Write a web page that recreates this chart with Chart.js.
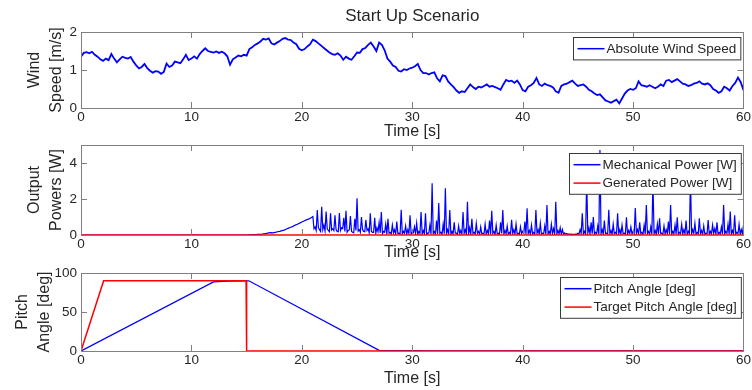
<!DOCTYPE html>
<html>
<head>
<meta charset="utf-8">
<title>Start Up Scenario</title>
<script src="https://cdn.jsdelivr.net/npm/chart.js@4.4.1/dist/chart.umd.min.js"></script>
<style>
  body { margin: 0; background: #fff; width: 752px; height: 390px; overflow: hidden; position: relative; }
  .panel { position: absolute; left: 0; width: 752px; }
  .panel canvas { display: block; }
</style>
</head>
<body>
<div class="panel" style="top:0px"><canvas id="windChart" width="752" height="141"></canvas></div>
<div class="panel" style="top:125px"><canvas id="powerChart" width="752" height="137"></canvas></div>
<div class="panel" style="top:250px"><canvas id="pitchChart" width="752" height="138"></canvas></div>
<script>
// ---- data ----
const timeTicks = [0, 10, 20, 30, 40, 50, 60];
const windTicks = [0, 1, 2];
const powerTicks = [0, 2, 4];
const pitchTicks = [0, 50, 100];

// absolute wind speed [m/s], one sample every 0.25 s from t = 0
const windDt = 0.25;
const windSpeed = [
  1.35, 1.45, 1.47, 1.44, 1.48, 1.40, 1.35, 1.28, 1.24, 1.30, 1.26, 1.42, 1.30, 1.20, 1.28, 1.35,
  1.32, 1.30, 1.34, 1.22, 1.12, 1.04, 1.08, 1.16, 1.05, 0.98, 0.93, 0.97, 0.96, 0.90, 0.95, 1.17,
  1.08, 1.12, 1.22, 1.20, 1.18, 1.28, 1.40, 1.26, 1.30, 1.36, 1.30, 1.42, 1.50, 1.57, 1.50, 1.48,
  1.46, 1.49, 1.45, 1.48, 1.44, 1.36, 1.14, 1.28, 1.33, 1.38, 1.36, 1.40, 1.38, 1.55, 1.60, 1.66,
  1.70, 1.75, 1.82, 1.80, 1.83, 1.70, 1.67, 1.72, 1.76, 1.82, 1.84, 1.80, 1.79, 1.72, 1.68, 1.56,
  1.52, 1.55, 1.62, 1.68, 1.80, 1.76, 1.70, 1.64, 1.58, 1.52, 1.46, 1.42, 1.40, 1.44, 1.38, 1.27,
  1.35, 1.30, 1.27, 1.36, 1.46, 1.45, 1.55, 1.58, 1.66, 1.72, 1.62, 1.50, 1.72, 1.66, 1.52, 1.30,
  1.22, 1.12, 1.08, 0.98, 0.96, 1.02, 1.00, 1.04, 1.06, 1.10, 1.16, 1.00, 0.92, 0.92, 0.88, 0.92,
  0.94, 0.78, 0.70, 0.86, 0.84, 0.70, 0.62, 0.55, 0.46, 0.40, 0.44, 0.42, 0.52, 0.62, 0.55, 0.50,
  0.56, 0.54, 0.58, 0.62, 0.56, 0.58, 0.55, 0.52, 0.48, 0.62, 0.74, 0.70, 0.72, 0.66, 0.72, 0.62,
  0.47, 0.44, 0.56, 0.60, 0.66, 0.79, 0.62, 0.58, 0.64, 0.60, 0.58, 0.54, 0.44, 0.40, 0.58, 0.62,
  0.64, 0.68, 0.72, 0.64, 0.58, 0.60, 0.62, 0.56, 0.48, 0.44, 0.38, 0.34, 0.36, 0.28, 0.20, 0.17,
  0.14, 0.18, 0.22, 0.12, 0.25, 0.38, 0.46, 0.50, 0.48, 0.52, 0.70, 0.60, 0.58, 0.56, 0.60, 0.56,
  0.52, 0.56, 0.62, 0.58, 0.72, 0.74, 0.68, 0.72, 0.76, 0.70, 0.64, 0.62, 0.58, 0.60, 0.64, 0.66,
  0.70, 0.64, 0.62, 0.65, 0.60, 0.50, 0.46, 0.40, 0.44, 0.56, 0.52, 0.46, 0.58, 0.66, 0.80, 0.68,
  0.47
];

// mechanical power [W], zero until t = 15, then one sample every 0.2 s
const powerT0 = 15;
const powerDt = 0.2;
const mechPower = [
  0.00, 0.01, 0.01, 0.02, 0.02, 0.03, 0.04, 0.05, 0.07, 0.09, 0.12, 0.13, 0.12, 0.15, 0.18, 0.20,
  0.24, 0.27, 0.33, 0.38, 0.43, 0.48, 0.55, 0.60, 0.66, 0.72, 0.78, 0.84, 0.88, 0.94, 1.02, 0.45,
  1.39, 0.30, 1.57, 0.55, 1.30, 0.25, 1.20, 0.35, 1.10, 0.20, 1.22, 0.40, 0.95, 1.35, 0.25, 1.05,
  0.15, 0.90, 2.04, 0.30, 1.00, 0.20, 0.85, 0.35, 1.20, 0.15, 0.95, 0.40, 0.70, 1.28, 0.20, 0.60,
  0.90, 0.15, 0.55, 0.30, 0.75, 0.10, 1.40, 0.20, 0.50, 0.30, 1.10, 0.15, 0.45, 0.65, 0.20, 1.28,
  0.25, 1.20, 0.10, 0.55, 2.87, 0.20, 0.80, 1.78, 0.15, 0.60, 2.59, 0.30, 1.39, 0.20, 0.70, 0.10,
  0.50, 0.25, 1.28, 0.30, 1.85, 0.40, 0.90, 0.15, 0.65, 0.20, 0.45, 0.10, 0.60, 0.25, 0.80, 1.35,
  0.20, 0.55, 0.10, 0.70, 1.39, 0.25, 0.50, 0.15, 0.85, 0.30, 0.60, 0.10, 0.45, 0.20, 0.75, 1.48,
  0.25, 0.55, 0.15, 1.39, 0.30, 0.65, 0.10, 0.50, 1.67, 0.20, 0.60, 0.35, 1.85, 0.25, 0.40, 0.30,
  0.12, 0.08, 0.06, 0.05, 0.04, 0.05, 0.10, 0.30, 1.20, 0.20, 3.10, 0.40, 0.70, 1.00, 0.15, 0.50,
  4.72, 0.30, 0.80, 0.10, 1.40, 0.25, 0.60, 0.15, 1.20, 0.30, 0.55, 0.10, 0.98, 0.25, 0.45, 0.20,
  1.50, 0.30, 0.70, 0.15, 0.55, 1.67, 0.20, 0.45, 3.00, 0.25, 0.60, 0.93, 0.10, 0.50, 0.30, 0.75,
  1.67, 0.20, 0.55, 0.98, 0.15, 0.60, 0.30, 0.80, 0.20, 3.20, 0.30, 0.65, 0.15, 0.93, 0.25, 0.50,
  0.10, 0.83, 0.20, 0.55, 0.35, 0.70, 0.15, 0.45, 1.67, 0.20, 0.60, 1.30, 0.25, 1.10, 0.15, 0.60,
  0.30, 0.55
];
// minima of the fast power oscillation, at 21.1, 21.3, ... 59.9 s (between the samples above)
const troughT0 = 21.1;
const mechTrough = [
  0.35, 0.25, 0.40, 0.20, 0.30, 0.22, 0.35, 0.18, 0.28, 0.25,
  0.30, 0.18, 0.25, 0.35, 0.20, 0.15, 0.28, 0.20, 0.12, 0.25,
  0.22, 0.15, 0.30, 0.18, 0.25, 0.12, 0.20, 0.15, 0.10, 0.18,
  0.12, 0.08, 0.15, 0.05, 0.10, 0.06, 0.12, 0.04, 0.08, 0.05,
  0.06, 0.10, 0.04, 0.08, 0.05, 0.12, 0.06, 0.03, 0.08, 0.05,
  0.07, 0.04, 0.10, 0.05, 0.08, 0.03, 0.06, 0.09, 0.04, 0.07,
  0.05, 0.08, 0.03, 0.06, 0.10, 0.04, 0.07, 0.05, 0.09, 0.03,
  0.06, 0.04, 0.08, 0.05, 0.10, 0.03, 0.07, 0.05, 0.04, 0.08,
  0.05, 0.09, 0.03, 0.06, 0.04, 0.08, 0.05, 0.07, 0.03, 0.06,
  0.08, 0.04, 0.06, 0.03, 0.09, 0.05, 0.04, 0.07, 0.05, 0.03,
  0.06, 0.08, 0.04, 0.05, 0.07, 0.03, 0.06, 0.05, 0.08, 0.04,
  0.05, 0.06, 0.04, 0.05, 0.04, 0.03, 0.03, 0.04, 0.03, 0.04,
  0.05, 0.08, 0.04, 0.06, 0.10, 0.05, 0.07, 0.04, 0.08, 0.05,
  0.06, 0.04, 0.09, 0.05, 0.07, 0.03, 0.08, 0.05, 0.06, 0.04,
  0.07, 0.05, 0.03, 0.08, 0.06, 0.04, 0.09, 0.05, 0.07, 0.03,
  0.06, 0.08, 0.04, 0.05, 0.07, 0.03, 0.06, 0.09, 0.04, 0.05,
  0.08, 0.05, 0.03, 0.07, 0.06, 0.04, 0.08, 0.05, 0.06, 0.03,
  0.07, 0.05, 0.09, 0.04, 0.06, 0.08, 0.03, 0.05, 0.07, 0.04,
  0.06, 0.08, 0.05, 0.03, 0.07, 0.04, 0.06, 0.09, 0.05, 0.04,
  0.07, 0.05, 0.08, 0.04, 0.06
];

// generated power [W]
const genTime = [0, 60];
const genPower = [0, 0];

// pitch angle and its target [deg]
const pitchTime = [0, 12.0, 13.3, 15.2, 27.0, 30.8, 31.0, 60];
const pitchAngle = [0, 88.5, 89.5, 90, 0.8, 0.6, 0, 0];
const targetTime = [0, 2.05, 14.95, 15.0, 60];
const targetAngle = [0, 90, 90, 0, 0];

// ---- helpers ----
const FONT = '"Liberation Sans", Arial, Helvetica, sans-serif';
const TEXT = '#262626';
const AXIS = '#808080';
Chart.defaults.font.family = FONT;
Chart.defaults.color = TEXT;

function pairs(times, values) {
  return values.map((v, i) => ({ x: times[i], y: v }));
}
function sampled(t0, dt, values) {
  return values.map((v, i) => ({ x: t0 + i * dt, y: v }));
}

// mechanical power: zero start, the sampled values, and the troughs slotted in between
function mechSeries() {
  const pts = [{ x: 0, y: 0 }].concat(sampled(powerT0, powerDt, mechPower))
    .concat(sampled(troughT0, powerDt, mechTrough));
  return pts.sort((a, b) => a.x - b.x);
}

// box around the axes with inward tick marks, optional title and boxed legend
function axesDecor(cfg) {
  return {
    id: 'axesDecor',
    afterDraw(chart) {
      const { ctx, chartArea: a, scales: { x, y } } = chart;
      const tl = 6;
      ctx.save();
      ctx.strokeStyle = AXIS;
      ctx.lineWidth = 1;
      ctx.beginPath();
      x.ticks.forEach(t => {
        const px = Math.round(x.getPixelForValue(t.value)) + 0.5;
        ctx.moveTo(px, a.bottom); ctx.lineTo(px, a.bottom - tl);
        ctx.moveTo(px, a.top); ctx.lineTo(px, a.top + tl);
      });
      y.ticks.forEach(t => {
        const py = Math.round(y.getPixelForValue(t.value)) + 0.5;
        ctx.moveTo(a.left, py); ctx.lineTo(a.left + tl, py);
        ctx.moveTo(a.right, py); ctx.lineTo(a.right - tl, py);
      });
      ctx.stroke();
      ctx.strokeRect(Math.round(a.left) + 0.5, Math.round(a.top) + 0.5,
        Math.round(a.right - a.left), Math.round(a.bottom - a.top));

      if (cfg.title) {
        ctx.fillStyle = TEXT;
        ctx.font = '17px ' + FONT;
        ctx.textAlign = 'center';
        ctx.textBaseline = 'alphabetic';
        ctx.fillText(cfg.title, (a.left + a.right) / 2, cfg.titleY);
      }

      // legend
      const sets = chart.data.datasets;
      ctx.font = '13.5px ' + FONT;
      const textW = Math.max(...sets.map(d => ctx.measureText(d.label).width));
      const rowH = 18.4;
      const w = textW + 37.5;
      const h = sets.length * rowH + 4;
      const bx = Math.round(a.right - 3 - w) + 0.5;
      const by = Math.round(a.top + cfg.legendDy) + 0.5;
      ctx.fillStyle = '#fff';
      ctx.fillRect(bx, by, w, h);
      ctx.strokeStyle = '#3a3a3a';
      ctx.strokeRect(bx, by, w, h);
      sets.forEach((d, i) => {
        const cy = by + 2 + rowH * i + rowH / 2;
        ctx.strokeStyle = d.borderColor;
        ctx.lineWidth = 1.5;
        ctx.beginPath();
        ctx.moveTo(bx + 4, cy); ctx.lineTo(bx + 31, cy);
        ctx.stroke();
        ctx.fillStyle = TEXT;
        ctx.textAlign = 'left';
        ctx.textBaseline = 'middle';
        ctx.fillText(d.label, bx + 33, cy + 0.5);
      });
      ctx.restore();
    }
  };
}

function makeOptions(o) {
  return {
    responsive: false,
    animation: false,
    events: [],
    layout: { padding: { left: o.padLeft, right: 7, top: o.padTop, bottom: 0 } },
    plugins: { legend: { display: false }, tooltip: { enabled: false }, title: { display: false } },
    elements: { point: { radius: 0 }, line: { tension: 0 } },
    scales: {
      x: {
        type: 'linear', min: 0, max: 60,
        afterBuildTicks: s => { s.ticks = timeTicks.map(v => ({ value: v })); },
        afterFit: s => { s.height = o.xHeight; },
        grid: { display: false, drawTicks: false },
        border: { display: false },
        ticks: { font: { size: 13.5 }, color: TEXT, padding: 1, maxRotation: 0, autoSkip: false },
        title: { display: true, text: 'Time [s]', font: { size: 16 }, color: TEXT, padding: { top: 0, bottom: 0 } }
      },
      y: {
        type: 'linear', min: o.yMin, max: o.yMax,
        afterBuildTicks: s => { s.ticks = o.yTicks.map(v => ({ value: v })); },
        afterFit: s => { s.width = o.yWidth; },
        grid: { display: false, drawTicks: false },
        border: { display: false },
        ticks: { font: { size: 13.5 }, color: TEXT, padding: 4, autoSkip: false },
        title: { display: true, text: o.yTitle, font: { size: 16, lineHeight: 1.375 }, color: TEXT, padding: { top: 0, bottom: 0 } }
      }
    }
  };
}

// ---- wind speed ----
new Chart(document.getElementById('windChart'), {
  type: 'line',
  data: {
    datasets: [{
      label: 'Absolute Wind Speed',
      data: sampled(0, windDt, windSpeed),
      borderColor: '#0000ff', borderWidth: 1.8
    }]
  },
  options: makeOptions({ padLeft: 24, padTop: 32, yWidth: 57, xHeight: 33, yMin: 0, yMax: 2, yTicks: windTicks, yTitle: ['Wind', 'Speed [m/s]'] }),
  plugins: [axesDecor({ title: 'Start Up Scenario', titleY: 21, legendDy: 4.7 })]
});

// ---- output powers ----
new Chart(document.getElementById('powerChart'), {
  type: 'line',
  data: {
    datasets: [{
      label: 'Mechanical Power [W]',
      data: mechSeries(),
      borderColor: '#0000ff', borderWidth: 1.2, order: 2
    }, {
      label: 'Generated Power [W]',
      data: pairs(genTime, genPower),
      borderColor: '#ff0000', borderWidth: 1.5, order: 1
    }]
  },
  options: makeOptions({ padLeft: 24, padTop: 20, yWidth: 57, xHeight: 27, yMin: 0, yMax: 5, yTicks: powerTicks, yTitle: ['Output', 'Powers [W]'] }),
  plugins: [axesDecor({ legendDy: 7.7 })]
});

// ---- pitch angle ----
new Chart(document.getElementById('pitchChart'), {
  type: 'line',
  data: {
    datasets: [{
      label: 'Pitch Angle [deg]',
      data: pairs(pitchTime, pitchAngle),
      borderColor: '#0000ff', borderWidth: 1.3, order: 2
    }, {
      label: 'Target Pitch Angle [deg]',
      data: pairs(targetTime, targetAngle),
      borderColor: '#ff0000', borderWidth: 1.5, order: 1
    }]
  },
  options: makeOptions({ padLeft: 12, padTop: 23, yWidth: 69, xHeight: 37, yMin: 0, yMax: 100, yTicks: pitchTicks, yTitle: ['Pitch', 'Angle [deg]'] }),
  plugins: [axesDecor({ legendDy: 4.3 })]
});
</script>
</body>
</html>
